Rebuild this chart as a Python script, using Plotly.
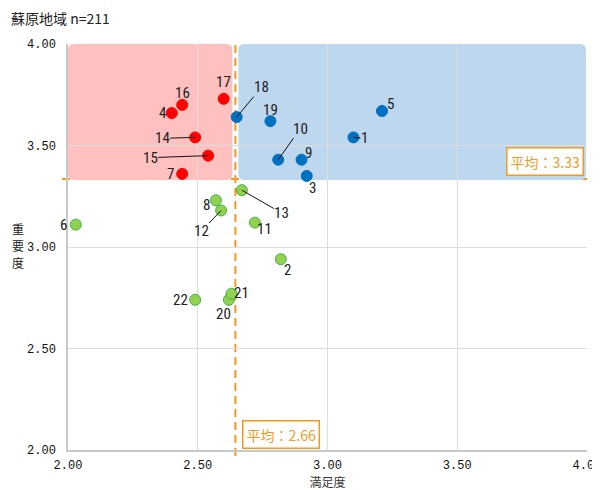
import plotly.graph_objects as go

# ---- data ----
item_ids = [str(i) for i in range(1, 23)]
satisfaction = [3.10, 2.82, 2.92, 2.40, 3.21, 2.03, 2.44, 2.57, 2.90, 2.81, 2.72,
                2.59, 2.67, 2.49, 2.54, 2.44, 2.60, 2.65, 2.78, 2.62, 2.63, 2.49]
importance = [3.54, 2.94, 3.35, 3.66, 3.67, 3.11, 3.36, 3.23, 3.43, 3.43, 3.12,
              3.18, 3.28, 3.54, 3.45, 3.70, 3.73, 3.64, 3.62, 2.74, 2.77, 2.74]
group = ["blue", "green", "blue", "red", "blue", "green", "red", "green", "blue", "blue", "green",
         "green", "green", "red", "red", "red", "red", "blue", "blue", "green", "green", "green"]
mean_sat = 2.645
mean_imp = 3.335
mean_sat_label = "2.66"
mean_imp_label = "3.33"
ticks = [2.0, 2.5, 3.0, 3.5, 4.0]
title_text = "蘇原地域 n=211"
x_title = "満足度"
y_title = "重要度"

# ---- styles / label placement (pixel offsets) ----
color_map = {"red": "#FF0000", "blue": "#0070C0", "green": "#92D050"}
line_map = {"red": "#FF0000", "blue": "#0070C0", "green": "#3DB54A"}
label_offsets = {
    "1": (11, 1, True), "2": (7, 11, False), "3": (6, 12, False), "4": (-9, 0, False),
    "5": (8, -7, False), "6": (-12, 0, False), "7": (-12, 0, False), "8": (-9, 5, False),
    "9": (7, -7, False), "10": (22, -31, True), "11": (10, 6, False), "12": (-20, 21, True),
    "13": (40, 23, True), "14": (-33, 1, True), "15": (-58, 2, True), "16": (0, -12, False),
    "17": (0, -17, False), "18": (25, -30, True), "19": (0, -11, False), "20": (-5, 14, False),
    "21": (10, -1, False), "22": (-15, 0, False),
}
ORANGE = "#F39A1E"
LABEL_FONT = dict(family="Liberation Sans Narrow, Roboto Condensed, Noto Sans", size=15, color="#222222")
TICK_FONT = dict(family="Liberation Mono, DejaVu Sans Mono", size=12, color="#111111")
CJK = "Noto Sans CJK JP"
W, H = 592, 482          # page adds an 8px body margin
L, R, T, B = 60, 13, 36, 40
PW, PH = W - L - R, H - T - B


def py_to_paper(py):
    return 1 - (py - T) / PH


fig = go.Figure()
for g in ["red", "blue", "green"]:
    idx = [i for i, gg in enumerate(group) if gg == g]
    fig.add_trace(go.Scatter(
        x=[satisfaction[i] for i in idx], y=[importance[i] for i in idx],
        mode="markers", showlegend=False, hoverinfo="skip", cliponaxis=False,
        marker=dict(size=11, color=color_map[g], line=dict(width=1, color=line_map[g])),
    ))

annotations = []
for i, lab in enumerate(item_ids):
    dx, dy, leader = label_offsets[lab]
    annotations.append(dict(
        x=satisfaction[i], y=importance[i], xref="x", yref="y", text=lab,
        showarrow=True, ax=dx, ay=dy, arrowhead=0, arrowwidth=1, standoff=0,
        arrowcolor="#111111" if leader else "rgba(0,0,0,0)",
        font=LABEL_FONT, borderpad=0,
    ))

# mean labels
annotations.append(dict(
    xref="paper", x=1 - 3 / PW, xanchor="right", yref="y", y=mean_imp, yanchor="bottom", yshift=3,
    text="平均：" + mean_imp_label, showarrow=False, font=dict(family=CJK, size=14, color=ORANGE),
    bgcolor="white", bordercolor=ORANGE, borderwidth=1.5, borderpad=3,
))
annotations.append(dict(
    xref="x", x=mean_sat, xanchor="left", xshift=7, yref="paper", y=0, yanchor="bottom", yshift=1,
    text="平均：" + mean_sat_label, showarrow=False, font=dict(family=CJK, size=14, color=ORANGE),
    bgcolor="white", bordercolor=ORANGE, borderwidth=1.5, borderpad=3,
))
# y-axis title (stacked, one character per line)
for k, ch in enumerate(y_title):
    annotations.append(dict(
        xref="paper", x=(10 - L) / PW, xanchor="center", yref="paper", y=py_to_paper(220 + 17 * k),
        yanchor="middle", text=ch, showarrow=False, borderpad=0,
        font=dict(family=CJK, size=12, color="#222222"),
    ))
# chart title
annotations.append(dict(
    xref="paper", x=(1 - L) / PW, xanchor="left", yref="paper", y=py_to_paper(10), yanchor="middle",
    text=title_text, showarrow=False, font=dict(family=CJK, size=14, color="#222222"),
))

# rounded quadrant shapes
PX_X = PW / (ticks[-1] - ticks[0])
PX_Y = PH / (ticks[-1] - ticks[0])


def rrect(x0, x1, y0, y1, r=6):
    rx, ry = r / PX_X, r / PX_Y
    return (f"M {x0+rx},{y1} L {x1-rx},{y1} Q {x1},{y1} {x1},{y1-ry} "
            f"L {x1},{y0+ry} Q {x1},{y0} {x1-rx},{y0} L {x0+rx},{y0} "
            f"Q {x0},{y0} {x0},{y0+ry} L {x0},{y1-ry} Q {x0},{y1} {x0+rx},{y1} Z")


gap = 3 / PX_X
shapes = [
    dict(type="path", xref="x", yref="y", layer="below", line=dict(width=0),
         fillcolor="#FFC0C0", path=rrect(ticks[0], mean_sat - gap, mean_imp - 1 / PX_Y, ticks[-1])),
    dict(type="path", xref="x", yref="y", layer="below", line=dict(width=0),
         fillcolor="#BDD7EE", path=rrect(mean_sat + gap, ticks[-1] - 1 / PX_X, mean_imp - 1 / PX_Y, ticks[-1])),
    dict(type="line", xref="paper", yref="y", x0=-6 / PW, x1=1, y0=mean_imp, y1=mean_imp,
         layer="between", line=dict(color=ORANGE, width=2, dash="8px,5px")),
    dict(type="line", xref="x", yref="paper", x0=mean_sat, x1=mean_sat, y0=-6 / PH, y1=1,
         layer="between", line=dict(color=ORANGE, width=2, dash="8px,5px")),
]

fig.update_layout(
    width=W, height=H,
    margin=dict(l=L, r=R, t=T, b=B, autoexpand=False),
    paper_bgcolor="white", plot_bgcolor="white",
    shapes=shapes, annotations=annotations,
)
fig.update_xaxes(range=[ticks[0], ticks[-1]], tickvals=ticks, tickformat=".2f", automargin=False,
                 showgrid=True, gridcolor="#DDDDDD", gridwidth=1, zeroline=False,
                 showline=True, linecolor="#C8C8C8", linewidth=1.5, tickfont=TICK_FONT,
                 ticklabelstandoff=3, ticklabeloverflow="allow",
                 title=dict(text=x_title, font=dict(family=CJK, size=12, color="#333333"), standoff=2))
fig.update_yaxes(range=[ticks[0], ticks[-1]], tickvals=ticks, tickformat=".2f", automargin=False,
                 showgrid=True, gridcolor="#DDDDDD", gridwidth=1, zeroline=False,
                 showline=True, linecolor="#C8C8C8", linewidth=1.5, tickfont=TICK_FONT,
                 ticklabelstandoff=8, ticklabeloverflow="allow")

fig.write_html("out.html")
